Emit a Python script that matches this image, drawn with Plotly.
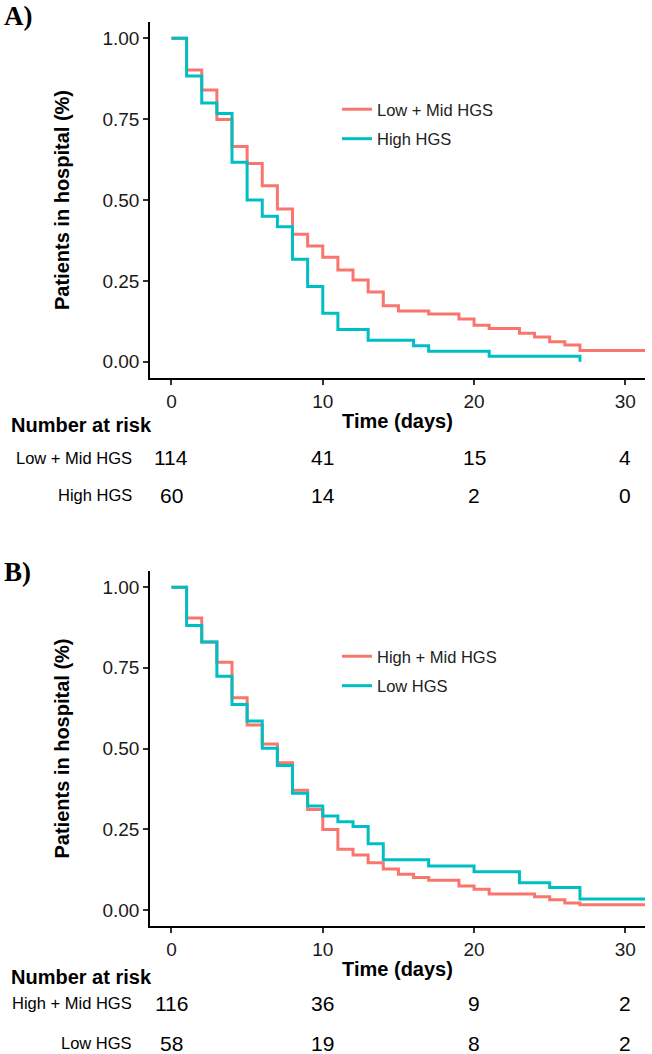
import plotly.graph_objects as go

# ---------------- data ----------------
# Panel A
a_low_mid_t = [0, 1, 2, 3, 4, 5, 6, 7, 8, 9, 10, 11, 12, 13, 14, 15, 17, 19, 20, 21, 23, 24, 25, 26, 27, 31.3]
a_low_mid_s = [1.0, 0.902, 0.840, 0.749, 0.665, 0.613, 0.544, 0.472, 0.394, 0.358, 0.323, 0.284, 0.253,
               0.216, 0.173, 0.157, 0.148, 0.132, 0.113, 0.103, 0.088, 0.077, 0.062, 0.052, 0.035, 0.035]
a_high_t = [0, 1, 2, 3, 4, 5, 6, 7, 8, 9, 10, 11, 13, 16, 17, 21, 27]
a_high_s = [1.0, 0.883, 0.800, 0.767, 0.617, 0.500, 0.450, 0.417, 0.317, 0.233, 0.150, 0.100, 0.067,
            0.050, 0.033, 0.017, 0.0]

# Panel B
b_high_mid_t = [0, 1, 2, 3, 4, 5, 6, 7, 8, 9, 10, 11, 12, 13, 14, 15, 16, 17, 19, 20, 21, 24, 25, 26, 27, 31.3]
b_high_mid_s = [1.0, 0.904, 0.830, 0.767, 0.657, 0.573, 0.514, 0.456, 0.371, 0.311, 0.249, 0.188, 0.170,
                0.146, 0.127, 0.110, 0.100, 0.092, 0.074, 0.064, 0.049, 0.041, 0.031, 0.021, 0.016, 0.016]
b_low_t = [0, 1, 2, 3, 4, 5, 6, 7, 8, 9, 10, 11, 12, 13, 14, 17, 20, 23, 25, 27, 31.3]
b_low_s = [1.0, 0.881, 0.830, 0.724, 0.636, 0.585, 0.501, 0.447, 0.361, 0.322, 0.291, 0.273, 0.258,
           0.205, 0.155, 0.136, 0.118, 0.084, 0.069, 0.034, 0.034]

# Number at risk
risk_times = [0, 10, 20, 30]
a_risk_low_mid = [114, 41, 15, 4]
a_risk_high = [60, 14, 2, 0]
b_risk_high_mid = [116, 36, 9, 2]
b_risk_low = [58, 19, 8, 2]

a_names = ["Low + Mid HGS", "High HGS"]
b_names = ["High + Mid HGS", "Low HGS"]

x_ticks = [0, 10, 20, 30]
y_ticks = [0, 0.25, 0.5, 0.75, 1.0]
y_ticklabels = ["0.00", "0.25", "0.50", "0.75", "1.00"]

RED = "#F8766D"
TEAL = "#00BFC4"

# ---------------- layout helpers ----------------
W, H = 652, 1054
SANS = "Liberation Sans, Arial, sans-serif"
SERIF = "Liberation Serif, Times New Roman, serif"


def px_x(p):
    return p / W


def px_y(p):
    return 1 - p / H


fig = go.Figure()

fig.add_trace(go.Scatter(x=a_low_mid_t, y=a_low_mid_s, mode="lines", line=dict(shape="hv", color=RED, width=3),
                         name=a_names[0], xaxis="x", yaxis="y", legend="legend", legendgroup="a1"))
fig.add_trace(go.Scatter(x=a_high_t, y=a_high_s, mode="lines", line=dict(shape="hv", color=TEAL, width=3),
                         name=a_names[1], xaxis="x", yaxis="y", legend="legend", legendgroup="a2"))
fig.add_trace(go.Scatter(x=b_high_mid_t, y=b_high_mid_s, mode="lines", line=dict(shape="hv", color=RED, width=3),
                         name=b_names[0], xaxis="x2", yaxis="y2", legend="legend2", legendgroup="b1"))
fig.add_trace(go.Scatter(x=b_low_t, y=b_low_s, mode="lines", line=dict(shape="hv", color=TEAL, width=3),
                         name=b_names[1], xaxis="x2", yaxis="y2", legend="legend2", legendgroup="b2"))

x_common = dict(range=[-1.42, 31.3], tickvals=x_ticks, showline=True, linecolor="black", linewidth=1.5,
                ticks="outside", ticklen=5, tickwidth=1.5, tickcolor="#333", showgrid=False, zeroline=False,
                tickfont=dict(family=SANS, size=19, color="#1a1a1a"), fixedrange=True)
y_common = dict(range=[-0.05, 1.05], tickvals=y_ticks, ticktext=y_ticklabels, showline=True, linecolor="black",
                linewidth=1.5, ticks="outside", ticklen=5, tickwidth=1.5, tickcolor="#333", showgrid=False,
                zeroline=False, tickfont=dict(family=SANS, size=19, color="#1a1a1a"), fixedrange=True)

title_font = dict(family=SANS, size=20, color="black", weight="bold")

fig.update_layout(
    width=W, height=H, margin=dict(l=0, r=0, t=0, b=0), paper_bgcolor="white", plot_bgcolor="white",
    xaxis=dict(domain=[px_x(150), px_x(645)], anchor="y",
               title=dict(text="Time (days)", font=title_font, standoff=3), **x_common),
    yaxis=dict(domain=[px_y(378), px_y(22)], anchor="x",
               title=dict(text="Patients in hospital (%)", font=title_font, standoff=27), **y_common),
    xaxis2=dict(domain=[px_x(150), px_x(645)], anchor="y2",
                title=dict(text="Time (days)", font=title_font, standoff=3), **x_common),
    yaxis2=dict(domain=[px_y(926), px_y(571)], anchor="x2",
                title=dict(text="Patients in hospital (%)", font=title_font, standoff=27), **y_common),
    legend=dict(x=px_x(337), y=px_y(92), xanchor="left", yanchor="top", bgcolor="rgba(0,0,0,0)",
                font=dict(family=SANS, size=16.5, color="#222"), tracegroupgap=5),
    legend2=dict(x=px_x(337), y=px_y(639), xanchor="left", yanchor="top", bgcolor="rgba(0,0,0,0)",
                 font=dict(family=SANS, size=16.5, color="#222"), tracegroupgap=5),
    showlegend=True,
)

annotations = []
# panel labels
annotations.append(dict(text="<b>A)</b>", x=px_x(2), y=px_y(16), xref="paper", yref="paper", xanchor="left",
                        yanchor="middle", showarrow=False, font=dict(family=SERIF, size=27, color="black")))
annotations.append(dict(text="<b>B)</b>", x=px_x(2), y=px_y(572), xref="paper", yref="paper", xanchor="left",
                        yanchor="middle", showarrow=False, font=dict(family=SERIF, size=27, color="black")))


def risk_table(xref, title_y, rows):
    annotations.append(dict(text="<b>Number at risk</b>", x=px_x(9), y=px_y(title_y), xref="paper", yref="paper",
                            xanchor="left", yanchor="middle", showarrow=False,
                            font=dict(family=SANS, size=20, color="black")))
    for name, counts, row_y in rows:
        annotations.append(dict(text=name, x=px_x(134), y=px_y(row_y), xref="paper", yref="paper",
                                xanchor="right", yanchor="middle", showarrow=False,
                                font=dict(family=SANS, size=16.5, color="black")))
        for t, n in zip(risk_times, counts):
            annotations.append(dict(text=str(n), x=t, y=px_y(row_y), xref=xref, yref="paper",
                                    xanchor="center", yanchor="middle", showarrow=False,
                                    font=dict(family=SANS, size=21, color="black")))


risk_table("x", 425, [(a_names[0], a_risk_low_mid, 457.5), (a_names[1], a_risk_high, 495)])
risk_table("x2", 977, [(b_names[0], b_risk_high_mid, 1003.5), (b_names[1], b_risk_low, 1043)])

fig.update_layout(annotations=annotations)

fig.write_html("out.html", config={"displayModeBar": False},
               post_script="document.body.style.margin='0px';document.body.style.padding='0px';"
                           "document.documentElement.style.overflow='hidden';")
